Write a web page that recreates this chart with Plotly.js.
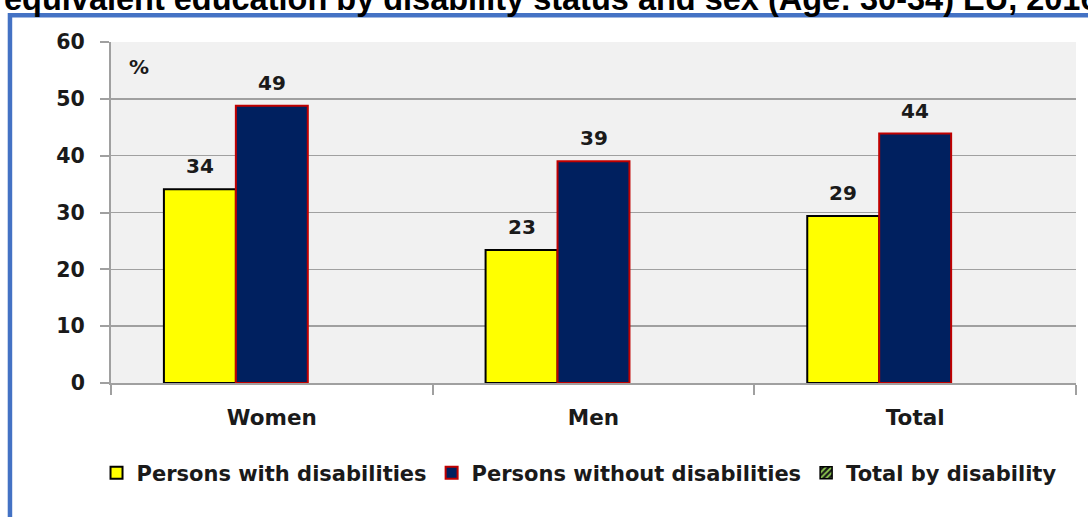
<!DOCTYPE html>
<html>
<head>
<meta charset="utf-8">
<script src="https://cdn.plot.ly/plotly-3.0.1.min.js"></script>
<style>html,body{margin:0;padding:0;background:#fff;}#chart{width:1088px;height:517px;}</style>
</head>
<body>
<div id="chart"></div>
<script>
// Data
const categories = ["Women", "Men", "Total"];
const seriesNames = ["Persons with disabilities", "Persons without disabilities", "Total by disability"];
const withDisabilities = [34.1, 23.4, 29.4];
const withoutDisabilities = [48.8, 39.0, 43.9];
const totalByDisability = [null, null, null];
const labelsWith = ["34", "23", "29"];
const labelsWithout = ["49", "39", "44"];
const titleText = "equivalent education by disability status and sex (Age: 30-34) EU, 2016";
const unitLabel = "%";

const boldFont = {family: "DejaVu Sans", weight: "bold", color: "#1a1a1a"};

const traces = [
  {
    type: "bar", name: seriesNames[0], x: categories, y: withDisabilities,
    marker: {color: "#ffff00", line: {color: "#000000", width: 2}},
    hoverinfo: "skip"
  },
  {
    type: "bar", name: seriesNames[1], x: categories, y: withoutDisabilities,
    marker: {color: "#00205f", line: {color: "#c00000", width: 2}},
    hoverinfo: "skip"
  },
  {
    type: "bar", name: seriesNames[2], x: categories, y: totalByDisability,
    marker: {color: "#1a1a1a", line: {color: "#000000", width: 1.5},
             pattern: {shape: "/", fgcolor: "#92d050", bgcolor: "#1a1a1a", size: 5, solidity: 0.45}},
    hoverinfo: "skip"
  }
];

const annotations = [];
categories.forEach((c, i) => {
  annotations.push({x: c, y: withDisabilities[i], xref: "x", yref: "y", text: labelsWith[i],
    showarrow: false, xshift: -72, yshift: 23, yanchor: "middle",
    font: Object.assign({size: 20}, boldFont)});
  annotations.push({x: c, y: withoutDisabilities[i], xref: "x", yref: "y", text: labelsWithout[i],
    showarrow: false, xshift: 0, yshift: 23, yanchor: "middle",
    font: Object.assign({size: 20}, boldFont)});
});
annotations.push({x: 0.029, y: 0.927, xref: "paper", yref: "paper", text: unitLabel, showarrow: false,
  xanchor: "center", yanchor: "middle", font: Object.assign({size: 20}, boldFont)});
annotations.push({x: -0.113, y: 1.068, xref: "paper", yref: "paper", text: titleText, showarrow: false,
  xanchor: "left", yanchor: "bottom",
  font: {family: "Liberation Sans", weight: "bold", size: 32.5, color: "#000000"}});

const layout = {
  width: 1088, height: 517,
  margin: {l: 111, r: 12, t: 42, b: 134},
  paper_bgcolor: "#ffffff",
  plot_bgcolor: "#f1f1f1",
  barmode: "group",
  bargap: 0.329,
  bargroupgap: 0,
  showlegend: true,
  legend: {
    orientation: "h", x: 0.485, xanchor: "center", y: -0.264, yanchor: "middle",
    font: Object.assign({size: 21}, boldFont), bgcolor: "rgba(0,0,0,0)"
  },
  xaxis: {
    type: "category", tickson: "boundaries", ticks: "outside", ticklen: 10, tickwidth: 2,
    tickcolor: "#a0a0a0", showline: true, linecolor: "#a0a0a0", linewidth: 2,
    showgrid: false, ticklabelstandoff: 14,
    tickfont: Object.assign({size: 21.5}, boldFont)
  },
  yaxis: {
    range: [0, 60], dtick: 10, ticks: "outside", ticklen: 9, tickwidth: 2,
    tickcolor: "#a0a0a0", showline: true, linecolor: "#a0a0a0", linewidth: 2,
    showgrid: true, gridcolor: "#a0a0a0", gridwidth: 1.5, zeroline: false,
    ticklabelstandoff: 11,
    tickfont: Object.assign({size: 20.5}, boldFont)
  },
  annotations: annotations,
  shapes: [{
    type: "rect", xref: "paper", yref: "paper",
    x0: -0.1047, x1: 1.03, y0: -0.45, y1: 1.0785,
    line: {color: "#4472c4", width: 4.5}, fillcolor: "rgba(0,0,0,0)", layer: "below"
  }]
};

Plotly.newPlot("chart", traces, layout, {displayModeBar: false, staticPlot: true});
</script>
</body>
</html>
